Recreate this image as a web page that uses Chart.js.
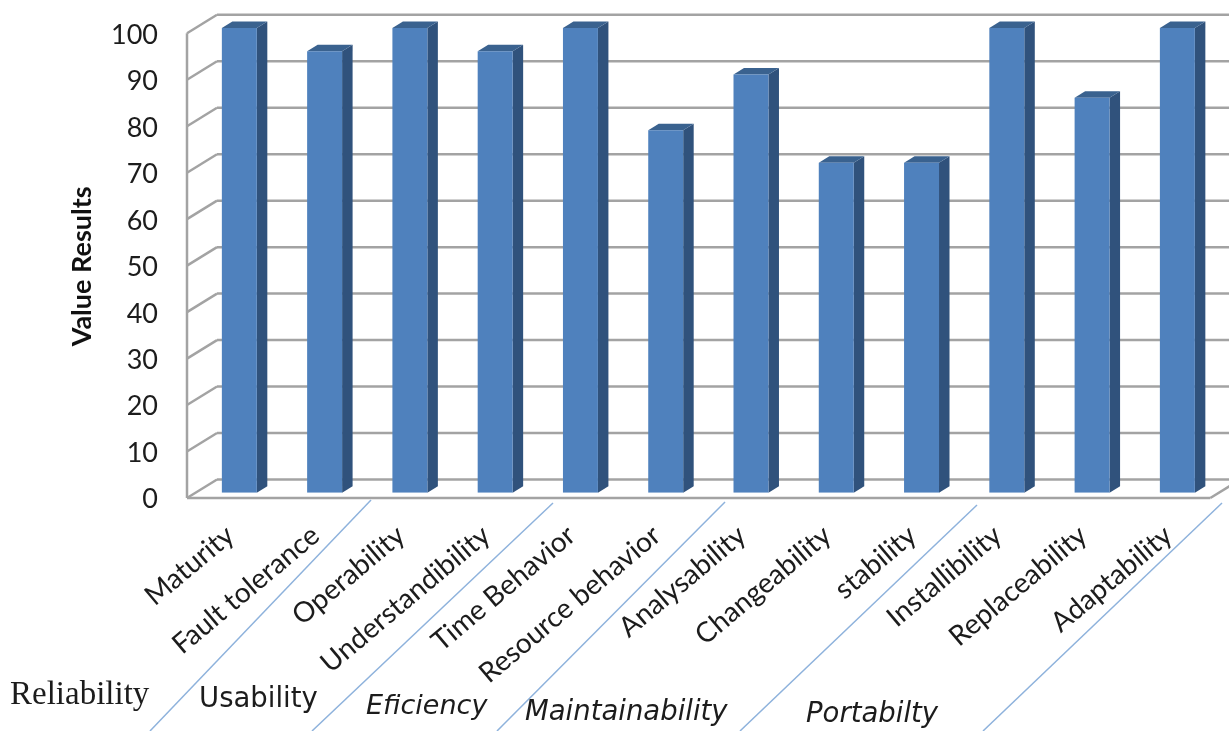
<!DOCTYPE html>
<html>
<head>
<meta charset="utf-8">
<title>Value Results</title>
<script src="https://cdn.jsdelivr.net/npm/chart.js@4"></script>
<style>
  html, body { margin: 0; padding: 0; background: #fff; }
  canvas { display: block; }
</style>
</head>
<body>
<canvas id="quality-chart" width="1229" height="731"></canvas>
<script>
  const categories = [
    "Maturity", "Fault tolerance", "Operability", "Understandibility",
    "Time Behavior", "Resource behavior", "Analysability", "Changeability",
    "stability", "Installibility", "Replaceability", "Adaptability"
  ];
  const valueResults = [100, 95, 100, 95, 100, 78, 90, 71, 71, 100, 85, 100];
  const tickValues = [0, 10, 20, 30, 40, 50, 60, 70, 80, 90, 100];
  const groupNames = ["Reliability", "Usability", "Eficiency", "Maintainability", "Portabilty"];
  const axisTitle = "Value Results";

  // fake 3D: how far the walls and the bar sides sit from the bar plane
  const WALL_FRONT = { dx: -9.7, dy: 5.3 };
  const WALL_BACK = { dx: 20.3, dy: -13.2 };
  const BAR_DEPTH = { dx: 10.5, dy: -6.5 };

  const GRID_COLOR = "#a3a3a3";
  const BAR_FRONT = "#4f81bd";
  const BAR_SIDE = "#30527c";
  const BAR_TOP = "#3a628f";
  const TEXT_COLOR = "#1c1c1c";

  // hand drawn group labels and separators under the axis
  const groupLabelStyles = [
    { x: 10, y: 695, font: "33px 'Liberation Serif'" },
    { x: 199, y: 700, font: "27.5px 'DejaVu Sans'" },
    { x: 366, y: 707, font: "italic 27px 'DejaVu Sans'" },
    { x: 525, y: 713, font: "italic 27.5px 'DejaVu Sans'" },
    { x: 806, y: 715, font: "italic 27.5px 'DejaVu Sans'" }
  ];
  const separators = [
    [371, 500, 150, 731],
    [553, 503, 312, 731],
    [725, 502, 497, 731],
    [977, 505, 740, 731],
    [1222, 503, 983, 731]
  ];

  function line(ctx, x1, y1, x2, y2) {
    ctx.beginPath();
    ctx.moveTo(x1, y1);
    ctx.lineTo(x2, y2);
    ctx.stroke();
  }

  function poly(ctx, pts, color) {
    ctx.fillStyle = color;
    ctx.beginPath();
    pts.forEach((p, i) => (i ? ctx.lineTo(p[0], p[1]) : ctx.moveTo(p[0], p[1])));
    ctx.closePath();
    ctx.fill();
  }

  const wallsPlugin = {
    id: "walls",
    beforeDatasetsDraw(chart) {
      const { ctx, chartArea, scales } = chart;
      const left = chartArea.left;
      const frontX = left + WALL_FRONT.dx;
      const backX = left + WALL_BACK.dx;

      ctx.save();
      ctx.strokeStyle = GRID_COLOR;
      ctx.lineWidth = 2.5;

      tickValues.forEach((v) => {
        const y = scales.y.getPixelForValue(v);
        line(ctx, frontX, y + WALL_FRONT.dy, backX, y + WALL_BACK.dy);
        line(ctx, backX, y + WALL_BACK.dy, chart.width, y + WALL_BACK.dy);
      });

      // left edge and floor
      const yTop = scales.y.getPixelForValue(100) + WALL_FRONT.dy;
      const yBase = scales.y.getPixelForValue(0);
      const floorY = yBase + WALL_FRONT.dy;
      const floorEnd = chartArea.right + WALL_FRONT.dx;
      line(ctx, frontX, yTop, frontX, floorY);
      line(ctx, frontX, floorY, floorEnd, floorY);
      line(ctx, floorEnd, floorY, floorEnd + WALL_BACK.dx - WALL_FRONT.dx, yBase + WALL_BACK.dy);
      ctx.restore();

      // y labels follow the front edge of the wall, not the bar plane
      ctx.save();
      ctx.font = "27px Lato";
      ctx.fillStyle = TEXT_COLOR;
      ctx.textAlign = "right";
      ctx.textBaseline = "middle";
      tickValues.forEach((v) => {
        ctx.fillText(String(v), 158, scales.y.getPixelForValue(v) + 7);
      });

      // axis title, a little below the middle of the scale
      ctx.translate(82, scales.y.getPixelForValue(50) + 6);
      ctx.rotate(-Math.PI / 2);
      ctx.textAlign = "center";
      ctx.font = "bold 27px Lato";
      ctx.fillStyle = "#111";
      ctx.fillText(axisTitle, 0, 0);
      ctx.restore();

      // bar sides and tops sit behind the front faces
      const meta = chart.getDatasetMeta(0);
      ctx.save();
      meta.data.forEach((bar) => {
        const r = bar.x + bar.width / 2;
        const l = bar.x - bar.width / 2;
        const d = BAR_DEPTH;
        poly(ctx, [[r, bar.y], [r + d.dx, bar.y + d.dy], [r + d.dx, bar.base + d.dy], [r, bar.base]], BAR_SIDE);
        poly(ctx, [[l, bar.y], [l + d.dx, bar.y + d.dy], [r + d.dx, bar.y + d.dy], [r, bar.y]], BAR_TOP);
      });
      ctx.restore();
    },
    afterDraw(chart) {
      const { ctx } = chart;
      ctx.save();
      ctx.strokeStyle = "#8eb2dc";
      ctx.lineWidth = 1.5;
      separators.forEach((s) => line(ctx, s[0], s[1], s[2], s[3]));

      ctx.fillStyle = TEXT_COLOR;
      ctx.textBaseline = "middle";
      groupNames.forEach((name, i) => {
        const st = groupLabelStyles[i];
        ctx.font = st.font;
        ctx.fillText(name, st.x, st.y);
      });
      ctx.restore();
    }
  };

  new Chart(document.getElementById("quality-chart"), {
    type: "bar",
    data: {
      labels: categories,
      datasets: [{
        label: axisTitle,
        data: valueResults,
        backgroundColor: BAR_FRONT,
        categoryPercentage: 1,
        barPercentage: 0.41
      }]
    },
    options: {
      responsive: false,
      animation: false,
      layout: { padding: { top: 28, right: 9, left: 60, bottom: 0 } },
      plugins: { legend: { display: false }, tooltip: { enabled: false } },
      scales: {
        x: {
          grid: { display: false },
          border: { display: false },
          ticks: {
            autoSkip: false,
            minRotation: 40,
            maxRotation: 40,
            padding: 18,
            labelOffset: -9,
            color: TEXT_COLOR,
            font: { family: "Lato", size: 28 }
          },
          afterFit(scale) { scale.height = 238.3; }
        },
        y: {
          min: 0,
          max: 100,
          grid: { display: false },
          border: { display: false },
          ticks: { display: false, stepSize: 10 },
          afterFit(scale) { scale.width = 136.7; }
        }
      }
    },
    plugins: [wallsPlugin]
  });
</script>
</body>
</html>
